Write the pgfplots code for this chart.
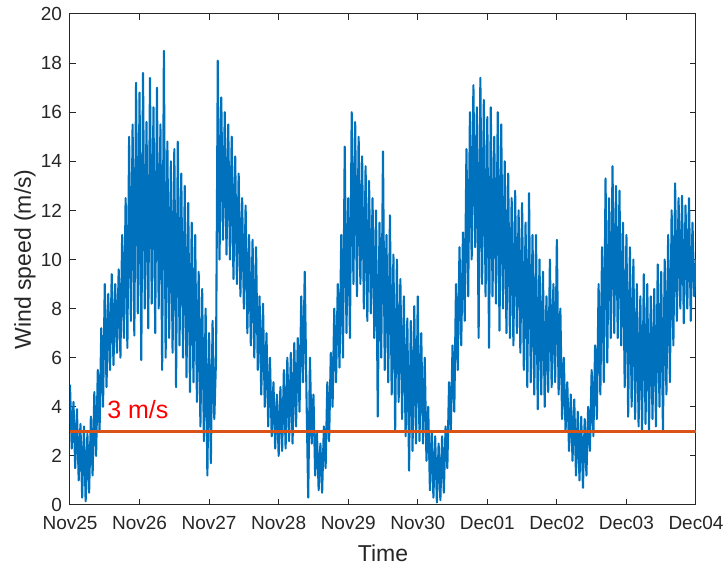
\documentclass[border=0pt]{standalone}
\usepackage{pgfplots}
\pgfplotsset{compat=1.18}
\usepackage{pgfplotstable}
\usepackage{fontspec}
\setmainfont{Liberation Sans}
\definecolor{mblue}{RGB}{0,114,189}
\definecolor{morange}{RGB}{217,83,25}
\definecolor{axgray}{RGB}{38,38,38}
\pgfplotstableread{
t v
0.000 4.9
0.025 2.3
0.050 4.2
0.075 1.5
0.100 3.9
0.125 1.0
0.150 3.3
0.175 0.3
0.200 3.2
0.225 0.15
0.250 2.9
0.275 0.5
0.300 3.6
0.325 1.2
0.350 4.6
0.375 2.0
0.400 5.5
0.425 3.0
0.450 7.2
0.475 4.0
0.500 9.0
0.525 4.8
0.550 8.6
0.575 5.5
0.600 9.4
0.625 5.7
0.650 9.0
0.675 6.2
0.700 9.6
0.725 6.0
0.750 11.0
0.775 6.8
0.800 12.5
0.825 6.4
0.850 15.0
0.875 7.5
0.900 15.5
0.925 6.9
0.950 17.2
0.975 7.8
1.000 16.8
1.025 5.9
1.050 17.6
1.075 8.0
1.100 15.6
1.125 7.2
1.150 17.4
1.175 8.2
1.200 16.2
1.225 7.0
1.250 17.0
1.275 8.0
1.300 15.5
1.325 5.5
1.350 18.5
1.375 6.0
1.400 14.8
1.425 6.8
1.450 14.0
1.475 6.2
1.500 14.5
1.525 4.8
1.550 14.8
1.575 6.5
1.600 13.5
1.625 6.0
1.650 13.0
1.675 5.2
1.700 12.3
1.725 4.6
1.750 11.5
1.775 5.0
1.800 11.0
1.825 4.2
1.850 9.5
1.875 3.2
1.900 8.8
1.925 2.6
1.950 8.0
1.975 1.2
2.000 7.0
2.025 1.7
2.050 7.5
2.075 3.5
2.100 6.0
2.125 18.1
2.150 10.0
2.175 16.6
2.200 10.8
2.225 16.0
2.250 10.2
2.275 15.5
2.300 10.0
2.325 15.0
2.350 9.2
2.375 14.2
2.400 9.0
2.425 13.5
2.450 8.5
2.475 12.5
2.500 8.0
2.525 12.2
2.550 7.0
2.575 11.0
2.600 6.5
2.625 10.8
2.650 6.0
2.675 10.5
2.700 5.5
2.725 8.5
2.750 4.5
2.775 8.2
2.800 4.0
2.825 7.0
2.850 3.2
2.875 6.0
2.900 2.8
2.925 5.0
2.950 2.3
2.975 4.5
3.000 2.0
3.025 4.8
3.050 2.2
3.075 5.5
3.100 2.3
3.125 6.0
3.150 2.6
3.175 6.2
3.200 2.5
3.225 6.6
3.250 3.2
3.275 6.8
3.300 3.8
3.325 8.5
3.350 5.0
3.375 9.5
3.400 4.5
3.425 0.3
3.450 6.0
3.475 2.5
3.500 4.5
3.525 1.2
3.550 3.0
3.575 0.6
3.600 2.5
3.625 0.5
3.650 3.2
3.675 1.5
3.700 5.0
3.725 2.6
3.750 6.2
3.775 4.0
3.800 8.0
3.825 5.0
3.850 9.0
3.875 5.6
3.900 11.0
3.925 6.0
3.950 14.6
3.975 7.0
4.000 12.5
4.025 6.8
4.050 16.0
4.075 9.0
4.100 15.6
4.125 8.5
4.150 15.0
4.175 9.0
4.200 14.2
4.225 8.0
4.250 13.8
4.275 7.5
4.300 13.2
4.325 7.8
4.350 12.5
4.375 6.8
4.400 12.0
4.425 3.6
4.450 11.5
4.475 6.0
4.500 14.4
4.525 5.5
4.550 11.0
4.575 5.0
4.600 11.8
4.625 4.5
4.650 10.2
4.675 3.0
4.700 10.0
4.725 4.2
4.750 9.2
4.775 3.5
4.800 8.5
4.825 2.8
4.850 7.6
4.875 1.4
4.900 7.5
4.925 2.2
4.950 8.1
4.975 2.5
5.000 8.5
5.025 2.6
5.050 7.0
5.075 2.5
5.100 6.0
5.125 1.8
5.150 4.0
5.175 0.6
5.200 3.0
5.225 0.3
5.250 2.8
5.275 0.1
5.300 2.5
5.325 0.2
5.350 2.8
5.375 0.5
5.400 3.2
5.425 1.5
5.450 5.0
5.475 3.0
5.500 6.5
5.525 3.8
5.550 9.0
5.575 5.5
5.600 10.5
5.625 6.5
5.650 11.1
5.675 7.5
5.700 14.5
5.725 8.5
5.750 16.0
5.775 10.0
5.800 17.1
5.825 10.5
5.850 16.2
5.875 6.8
5.900 17.4
5.925 9.0
5.950 16.5
5.975 8.5
6.000 15.8
6.025 6.4
6.050 16.2
6.075 8.5
6.100 15.0
6.125 8.2
6.150 16.0
6.175 7.1
6.200 15.5
6.225 8.0
6.250 14.0
6.275 7.0
6.300 13.5
6.325 6.8
6.350 12.5
6.375 6.5
6.400 12.8
6.425 7.0
6.450 12.0
6.475 6.2
6.500 12.3
6.525 5.5
6.550 11.5
6.575 4.8
6.600 12.7
6.625 5.0
6.650 11.0
6.675 4.5
6.700 11.0
6.725 3.9
6.750 10.0
6.775 4.5
6.800 9.5
6.825 4.0
6.850 8.5
6.875 4.6
6.900 10.0
6.925 4.8
6.950 9.0
6.975 5.0
7.000 10.8
7.025 4.5
7.050 8.0
7.075 3.5
7.100 6.0
7.125 3.0
7.150 5.0
7.175 2.2
7.200 4.5
7.225 1.8
7.250 4.3
7.275 1.2
7.300 3.8
7.325 1.0
7.350 3.6
7.375 0.7
7.400 3.5
7.425 1.2
7.450 4.0
7.475 2.2
7.500 5.5
7.525 2.8
7.550 6.5
7.575 3.5
7.600 9.0
7.625 4.5
7.650 10.5
7.675 5.0
7.700 13.3
7.725 5.8
7.750 12.5
7.775 6.8
7.800 13.8
7.825 7.0
7.850 13.0
7.875 6.8
7.900 12.8
7.925 6.5
7.950 11.5
7.975 4.8
8.000 11.0
8.025 3.6
8.050 10.5
8.075 4.0
8.100 10.0
8.125 3.5
8.150 9.0
8.175 3.2
8.200 8.5
8.225 3.0
8.250 9.4
8.275 3.3
8.300 9.0
8.325 3.0
8.350 8.5
8.375 3.5
8.400 8.8
8.425 3.2
8.450 9.8
8.475 4.0
8.500 9.5
8.525 3.0
8.550 10.0
8.575 4.5
8.600 11.0
8.625 5.0
8.650 12.0
8.675 6.5
8.700 13.1
8.725 7.5
8.750 12.5
8.775 8.0
8.800 12.6
8.825 7.4
8.850 12.2
8.875 8.0
8.900 12.5
8.925 7.5
8.950 11.5
8.975 8.5
9.000 10.0
}\windtable
\begin{document}
\begin{tikzpicture}
\useasboundingbox (-35pt,-33pt) rectangle (329pt,252.5pt);
\begin{axis}[
  at={(0,0)}, anchor=south west,
  scale only axis,
  width=313pt, height=245.5pt,
  xmin=0, xmax=9, ymin=0, ymax=20,
  xtick={0,1,...,9},
  xticklabels={Nov25,Nov26,Nov27,Nov28,Nov29,Nov30,Dec01,Dec02,Dec03,Dec04},
  ytick={0,2,...,20},
  tick align=inside,
  major tick length=3pt,
  axis line style={axgray, line width=0.5pt},
  every tick/.style={axgray, line width=0.5pt},
  ticklabel style={font=\fontsize{9.5}{10}\selectfont, text=axgray},
  xticklabel style={yshift=-2pt},
  yticklabel style={xshift=-0.5pt},
  /pgf/number format/assume math mode=true,
  xlabel={Time},
  ylabel={Wind speed (m/s)},
  label style={font=\fontsize{11.5}{13}\selectfont, text=axgray},
  xlabel style={at={(axis description cs:0.5,0)}, anchor=center, yshift=-24pt},
  ylabel style={at={(axis description cs:0,0.5)}, anchor=center, yshift=22.5pt},
  clip=true,
]
\addplot[mblue, line width=1.05pt, line join=round] table[x=t, y=v] {\windtable};
\addplot[morange, line width=1.5pt] coordinates {(0,3) (9,3)};
\node[anchor=south west, text=red, font=\fontsize{12.5}{14}\selectfont, inner sep=0pt] at (axis cs:0.53,3.5) {3 m/s};
\end{axis}
\end{tikzpicture}
\end{document}
